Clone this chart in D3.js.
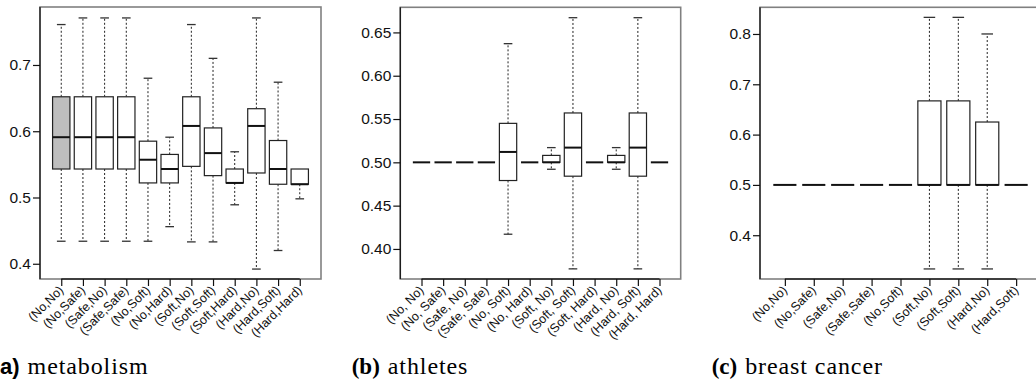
<!DOCTYPE html>
<html>
<head>
<meta charset="utf-8">
<script src="https://cdn.jsdelivr.net/npm/d3@7/dist/d3.min.js"></script>
<style>
  body { margin: 0; background: #fff; }
  svg { display: block; }
  .tick-label { font-family: 'Liberation Sans', Arial, Helvetica, sans-serif; fill: #111; }
  .cap-title { font-family: 'Liberation Serif', 'DejaVu Serif', serif; font-size: 24px; }
  .cap-sans { font-family: 'Liberation Sans', Arial, sans-serif; font-weight: bold; font-size: 22px; }
  .cap-serif { font-family: 'Liberation Serif', 'DejaVu Serif', serif; font-weight: bold; font-size: 23px; }
</style>
</head>
<body>
<svg id="chart" width="1036" height="385"></svg>
<script>
// (a) metabolism
const catsA = ['(No,No)', '(No,Safe)', '(Safe,No)', '(Safe,Safe)', '(No,Soft)', '(No,Hard)',
  '(Soft,No)', '(Soft,Soft)', '(Soft,Hard)', '(Hard,No)', '(Hard,Soft)', '(Hard,Hard)'];
const lowA = [0.434, 0.434, 0.434, 0.434, 0.434, 0.456, 0.433, 0.433, 0.489, 0.392, 0.420, 0.498];
const q1A = [0.543, 0.543, 0.543, 0.543, 0.522, 0.522, 0.547, 0.533, 0.522, 0.537, 0.520, 0.520];
const medA = [0.591, 0.591, 0.591, 0.591, 0.557, 0.543, 0.608, 0.567, 0.522, 0.608, 0.543, 0.520];
const q3A = [0.652, 0.652, 0.652, 0.652, 0.585, 0.565, 0.652, 0.605, 0.543, 0.634, 0.586, 0.543];
const highA = [0.761, 0.771, 0.771, 0.771, 0.680, 0.591, 0.761, 0.710, 0.569, 0.771, 0.674, 0.543];
const ticksA = [0.4, 0.5, 0.6, 0.7];

// (b) athletes
const catsB = ['(No, No)', '(No, Safe)', '(Safe, No)', '(Safe, Safe)', '(No, Soft)', '(No, Hard)',
  '(Soft, No)', '(Soft, Soft)', '(Soft, Hard)', '(Hard, No)', '(Hard, Soft)', '(Hard, Hard)'];
const lowB = [0.5, 0.5, 0.5, 0.5, 0.417, 0.5, 0.492, 0.377, 0.5, 0.492, 0.377, 0.5];
const q1B = [0.5, 0.5, 0.5, 0.5, 0.479, 0.5, 0.5, 0.484, 0.5, 0.5, 0.484, 0.5];
const medB = [0.5, 0.5, 0.5, 0.5, 0.512, 0.5, 0.5, 0.517, 0.5, 0.5, 0.517, 0.5];
const q3B = [0.5, 0.5, 0.5, 0.5, 0.545, 0.5, 0.508, 0.557, 0.5, 0.508, 0.557, 0.5];
const highB = [0.5, 0.5, 0.5, 0.5, 0.637, 0.5, 0.517, 0.667, 0.5, 0.517, 0.667, 0.5];
const ticksB = [0.40, 0.45, 0.50, 0.55, 0.60, 0.65];

// (c) breast cancer
const catsC = ['(No,No)', '(No,Safe)', '(Safe,No)', '(Safe,Safe)', '(No,Soft)',
  '(Soft,No)', '(Soft,Soft)', '(Hard,No)', '(Hard,Soft)'];
const lowC = [0.5, 0.5, 0.5, 0.5, 0.5, 0.333, 0.333, 0.333, 0.5];
const q1C = [0.5, 0.5, 0.5, 0.5, 0.5, 0.5, 0.5, 0.5, 0.5];
const medC = [0.5, 0.5, 0.5, 0.5, 0.5, 0.5, 0.5, 0.5, 0.5];
const q3C = [0.5, 0.5, 0.5, 0.5, 0.5, 0.667, 0.667, 0.625, 0.5];
const highC = [0.5, 0.5, 0.5, 0.5, 0.5, 0.833, 0.833, 0.8, 0.5];
const ticksC = [0.4, 0.5, 0.6, 0.7, 0.8];

const svg = d3.select('#chart');

function drawPanel(p) {
  const { left, right, top, bottom } = p.box;
  const n = p.cats.length;
  // R pads the x range by 4% on each side
  const inset = (right - left) * 0.04 / 1.08;

  const x = d3.scalePoint()
    .domain(p.cats)
    .range([left + inset, right - inset])
    .padding(0.5);
  const y = d3.scaleLinear().domain(p.yDomain).range([bottom, top]);
  const boxW = x.step() * 0.8;

  const g = svg.append('g');

  const rows = p.cats.map((c, i) => ({
    cat: c, low: p.low[i], q1: p.q1[i], med: p.med[i], q3: p.q3[i], high: p.high[i], fill: i === p.shaded ? '#bebebe' : '#fff'
  }));

  const groups = g.selectAll('.box').data(rows).join('g')
    .attr('class', 'box')
    .attr('transform', d => `translate(${x(d.cat)},0)`);

  // whiskers (dotted)
  groups.filter(d => d.high > d.q3).append('line')
    .attr('x1', 0).attr('x2', 0)
    .attr('y1', d => y(d.q3)).attr('y2', d => y(d.high))
    .attr('stroke', '#222').attr('stroke-width', 1).attr('stroke-dasharray', '2,2');
  groups.filter(d => d.low < d.q1).append('line')
    .attr('x1', 0).attr('x2', 0)
    .attr('y1', d => y(d.q1)).attr('y2', d => y(d.low))
    .attr('stroke', '#222').attr('stroke-width', 1).attr('stroke-dasharray', '2,2');

  // staples
  groups.filter(d => d.high > d.q3).append('line')
    .attr('x1', -boxW / 4).attr('x2', boxW / 4)
    .attr('y1', d => y(d.high)).attr('y2', d => y(d.high))
    .attr('stroke', '#333').attr('stroke-width', 1.3);
  groups.filter(d => d.low < d.q1).append('line')
    .attr('x1', -boxW / 4).attr('x2', boxW / 4)
    .attr('y1', d => y(d.low)).attr('y2', d => y(d.low))
    .attr('stroke', '#333').attr('stroke-width', 1.3);

  // boxes
  groups.append('rect')
    .attr('x', -boxW / 2)
    .attr('width', boxW)
    .attr('y', d => y(d.q3))
    .attr('height', d => y(d.q1) - y(d.q3))
    .attr('fill', d => d.fill)
    .attr('stroke', '#222')
    .attr('stroke-width', 1.2);

  // medians
  groups.append('line')
    .attr('x1', -boxW / 2).attr('x2', boxW / 2)
    .attr('y1', d => y(d.med)).attr('y2', d => y(d.med))
    .attr('stroke', '#111').attr('stroke-width', 2);

  // frame
  g.append('rect')
    .attr('x', left).attr('y', top)
    .attr('width', right - left).attr('height', bottom - top)
    .attr('fill', 'none').attr('stroke', '#808080').attr('stroke-width', 1.6);

  // y axis
  const yAxis = g.append('g')
    .attr('transform', `translate(${left},0)`)
    .call(d3.axisLeft(y).tickValues(p.ticks).tickFormat(d3.format(p.fmt)).tickSize(7).tickPadding(2));
  yAxis.attr('font-family', null).attr('font-size', null);
  yAxis.select('.domain').attr('d', `M0,${top}V${bottom}`).attr('stroke', '#111').attr('stroke-width', 1.2);
  yAxis.selectAll('.tick line').attr('stroke', '#111').attr('stroke-width', 1.2);
  yAxis.selectAll('.tick text')
    .attr('class', 'tick-label')
    .style('font-size', '15.5px')
    .attr('fill', '#111');

  // x axis
  const xAxis = g.append('g')
    .attr('transform', `translate(0,${bottom})`)
    .call(d3.axisBottom(x).tickSize(7).tickFormat(''));
  const x0 = x(p.cats[0]), x1 = x(p.cats[n - 1]);
  xAxis.select('.domain').attr('d', `M${x0},0H${x1}`).attr('stroke', '#222').attr('stroke-width', 1.4);
  xAxis.selectAll('.tick line').attr('stroke', '#111').attr('stroke-width', 1.2);

  g.selectAll('.xlab').data(p.cats).join('text')
    .attr('class', 'tick-label xlab')
    .attr('text-anchor', 'end')
    .attr('transform', d => `translate(${x(d) + 3},${bottom + 12}) rotate(-45)`)
    .style('font-size', '12.5px')
    .text(d => d);

  // caption
  const cap = svg.append('text')
    .attr('x', p.capX)
    .attr('y', 374);
  cap.append('tspan')
    .attr('class', p.capBoldClass)
    .text(p.capLabel);
  cap.append('tspan')
    .attr('class', 'cap-title')
    .attr('letter-spacing', '0.9px')
    .attr('dx', 8)
    .text(p.capTitle);
}

drawPanel({
  cats: catsA, low: lowA, q1: q1A, med: medA, q3: q3A, high: highA,
  ticks: ticksA, fmt: '.1f', yDomain: [0.377, 0.7875], shaded: 0,
  box: { left: 40, right: 321, top: 7, bottom: 279 },
  capX: 0, capLabel: 'a)', capTitle: 'metabolism', capBoldClass: 'cap-sans'
});

drawPanel({
  cats: catsB, low: lowB, q1: q1B, med: medB, q3: q3B, high: highB,
  ticks: ticksB, fmt: '.2f', yDomain: [0.3653, 0.679], shaded: -1,
  box: { left: 400.3, right: 680.7, top: 7.3, bottom: 279 },
  capX: 351.7, capLabel: '(b)', capTitle: 'athletes', capBoldClass: 'cap-serif'
});

drawPanel({
  cats: catsC, low: lowC, q1: q1C, med: medC, q3: q3C, high: highC,
  ticks: ticksC, fmt: '.1f', yDomain: [0.313, 0.853], shaded: -1,
  box: { left: 760, right: 1041, top: 7.3, bottom: 279 },
  capX: 711.7, capLabel: '(c)', capTitle: 'breast cancer', capBoldClass: 'cap-serif'
});
</script>
</body>
</html>
